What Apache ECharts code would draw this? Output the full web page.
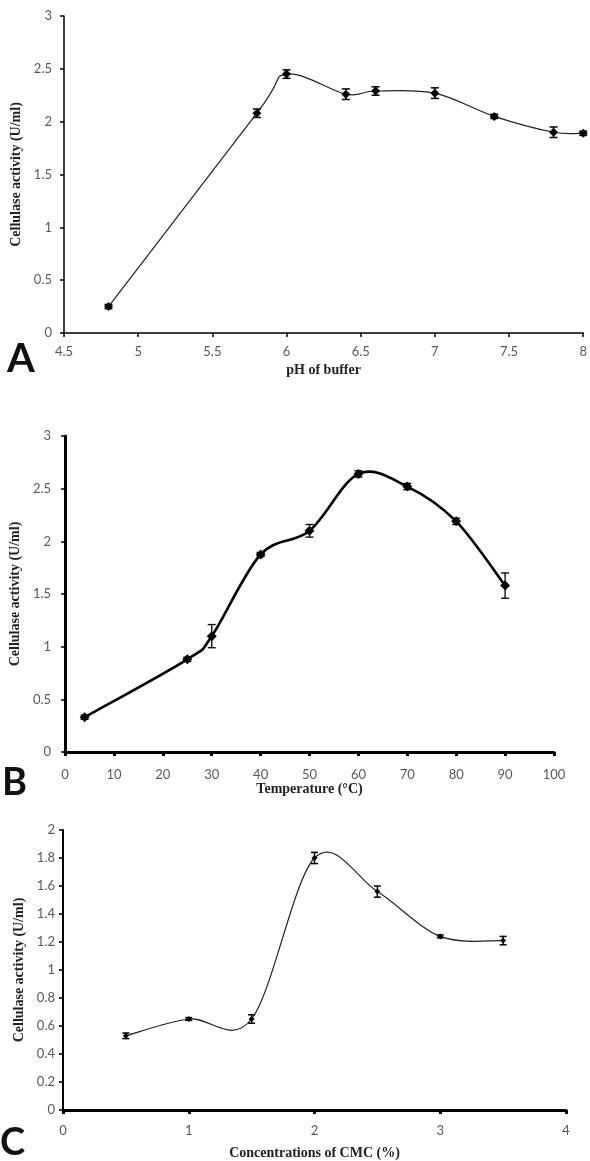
<!DOCTYPE html>
<html>
<head>
<meta charset="utf-8">
<script src="https://cdn.jsdelivr.net/npm/echarts@6/dist/echarts.min.js"></script>
<style>html,body{margin:0;padding:0;background:#fff;}#c{width:590px;height:1161px;}</style>
</head>
<body>
<div id="c"></div>
<script>
// Panel A: pH of buffer
var phX = [4.8, 5.8, 6.0, 6.4, 6.6, 7.0, 7.4, 7.8, 8.0];
var phY = [0.25, 2.08, 2.45, 2.26, 2.29, 2.27, 2.05, 1.90, 1.89];
var phErr = [0.02, 0.04, 0.04, 0.05, 0.04, 0.05, 0.02, 0.05, 0.02];
// Panel B: Temperature
var tempX = [4, 25, 30, 40, 50, 60, 70, 80, 90];
var tempY = [0.33, 0.88, 1.10, 1.875, 2.10, 2.64, 2.52, 2.19, 1.58];
var tempErr = [0.02, 0.02, 0.11, 0.02, 0.06, 0.03, 0.03, 0.03, 0.12];
// Panel C: CMC concentration
var cmcX = [0.5, 1.0, 1.5, 2.0, 2.5, 3.0, 3.5];
var cmcY = [0.53, 0.65, 0.65, 1.80, 1.56, 1.24, 1.21];
var cmcErr = [0.02, 0.01, 0.03, 0.04, 0.04, 0.01, 0.03];

var yTitle = 'Cellulase activity (U/ml)';
var xTitles = ['pH of buffer', 'Temperature (\u00B0C)', 'Concentrations of CMC (%)'];
var panelLetters = ['A', 'B', 'C'];

function pairs(xs, ys) { return xs.map(function (x, i) { return [x, ys[i]]; }); }
function triples(xs, ys, es) { return xs.map(function (x, i) { return [x, ys[i], es[i]]; }); }

function errRender(cap, lw) {
  return function (params, api) {
    var x = api.value(0), y = api.value(1), e = api.value(2);
    var t = api.coord([x, y + e]), b = api.coord([x, y - e]);
    var st = { stroke: '#000', lineWidth: lw };
    return { type: 'group', children: [
      { type: 'line', shape: { x1: t[0], y1: t[1], x2: b[0], y2: b[1] }, style: st },
      { type: 'line', shape: { x1: t[0] - cap, y1: t[1], x2: t[0] + cap, y2: t[1] }, style: st },
      { type: 'line', shape: { x1: b[0] - cap, y1: b[1], x2: b[0] + cap, y2: b[1] }, style: st }
    ] };
  };
}

// Smoothed line (Catmull-Rom style bezier, like spreadsheet "smoothed line")
function curveRender(k, lw, color) {
  return function (params, api) {
    var i = params.dataIndexInside, n = params.dataInsideLength;
    if (i >= n - 1) return;
    function P(j) { j = Math.max(0, Math.min(n - 1, j)); return api.coord([api.value(0, j), api.value(1, j)]); }
    var p0 = P(i - 1), p1 = P(i), p2 = P(i + 1), p3 = P(i + 2);
    return { type: 'bezierCurve',
      shape: { x1: p1[0], y1: p1[1], x2: p2[0], y2: p2[1],
        cpx1: p1[0] + (p2[0] - p0[0]) * k, cpy1: p1[1] + (p2[1] - p0[1]) * k,
        cpx2: p2[0] - (p3[0] - p1[0]) * k, cpy2: p2[1] - (p3[1] - p1[1]) * k },
      style: { stroke: color, lineWidth: lw, fill: 'none' } };
  };
}

var tickLabel = { color: '#595959', fontFamily: 'Lato', fontSize: 13 };
var nameStyle = { color: '#222', fontFamily: 'Liberation Serif', fontWeight: 'bold', fontSize: 14 };

function xAx(idx, min, max, interval, lw, gap, lblMargin) {
  return { type: 'value', gridIndex: idx, min: min, max: max, interval: interval,
    name: xTitles[idx], nameLocation: 'middle', nameGap: gap, nameTextStyle: nameStyle,
    axisLine: { show: true, onZero: false, lineStyle: { color: '#000', width: lw } },
    axisTick: { show: true, length: 4, lineStyle: { color: '#000', width: lw } },
    axisLabel: Object.assign({ margin: lblMargin }, tickLabel),
    splitLine: { show: false } };
}
function yAx(idx, min, max, interval, lw, gap, lblMargin) {
  return { type: 'value', gridIndex: idx, min: min, max: max, interval: interval,
    name: yTitle, nameLocation: 'middle', nameRotate: 90, nameGap: gap, nameTextStyle: nameStyle,
    axisLine: { show: true, lineStyle: { color: '#000', width: lw } },
    axisTick: { show: true, length: 4, lineStyle: { color: '#000', width: Math.min(lw, 1.5) } },
    axisLabel: Object.assign({ margin: lblMargin }, tickLabel),
    splitLine: { show: false } };
}

var K = 1 / 6;
option = {
  backgroundColor: '#fff',
  animation: false,
  grid: [
    { left: 64, top: 16, right: 3, bottom: 828 },
    { left: 65, top: 436, right: 36, bottom: 409 },
    { left: 63, top: 830, right: 24, bottom: 49 }
  ],
  xAxis: [
    xAx(0, 4.5, 8, 0.5, 1.5, 30, 12),
    xAx(1, 0, 100, 10, 3, 29, 16),
    xAx(2, 0, 4, 1, 3, 36, 14)
  ],
  yAxis: [
    yAx(0, 0, 3, 0.5, 1.5, 37, 12),
    yAx(1, 0, 3, 0.5, 3, 39, 14),
    yAx(2, 0, 2, 0.2, 2, 37, 8)
  ],
  series: [
    { type: 'custom', xAxisIndex: 0, yAxisIndex: 0, data: pairs(phX, phY), renderItem: curveRender(K, 1.2, '#222'), z: 2 },
    { type: 'scatter', xAxisIndex: 0, yAxisIndex: 0, data: pairs(phX, phY),
      symbol: 'diamond', symbolSize: 9, itemStyle: { color: '#000', opacity: 1 }, z: 4 },
    { type: 'custom', xAxisIndex: 0, yAxisIndex: 0, data: triples(phX, phY, phErr), renderItem: errRender(4, 1.5), z: 3 },

    { type: 'custom', xAxisIndex: 1, yAxisIndex: 1, data: pairs(tempX, tempY), renderItem: curveRender(K, 2.6, '#000'), z: 2 },
    { type: 'scatter', xAxisIndex: 1, yAxisIndex: 1, data: pairs(tempX, tempY),
      symbol: 'diamond', symbolSize: 10, itemStyle: { color: '#000', opacity: 1 }, z: 4 },
    { type: 'custom', xAxisIndex: 1, yAxisIndex: 1, data: triples(tempX, tempY, tempErr), renderItem: errRender(4, 1.3), z: 3 },

    { type: 'custom', xAxisIndex: 2, yAxisIndex: 2, data: pairs(cmcX, cmcY), renderItem: curveRender(K, 1.2, '#222'), z: 2 },
    { type: 'scatter', xAxisIndex: 2, yAxisIndex: 2, data: pairs(cmcX, cmcY),
      symbol: 'diamond', symbolSize: 6, itemStyle: { color: '#000', opacity: 1 }, z: 4 },
    { type: 'custom', xAxisIndex: 2, yAxisIndex: 2, data: triples(cmcX, cmcY, cmcErr), renderItem: errRender(3.5, 1.5), z: 3 }
  ],
  graphic: [
    { type: 'text', left: 7, top: 339, style: { text: panelLetters[0], font: 'bold 40px Lato', fill: '#111' } },
    { type: 'text', left: 2, top: 764, style: { text: panelLetters[1], font: 'bold 38px Lato', fill: '#111' } },
    { type: 'text', left: 0, top: 1124, style: { text: panelLetters[2], font: 'bold 38px Lato', fill: '#111' } }
  ]
};
var chart = echarts.init(document.getElementById('c'), null, { renderer: 'canvas' });
chart.setOption(option);
</script>
</body>
</html>
